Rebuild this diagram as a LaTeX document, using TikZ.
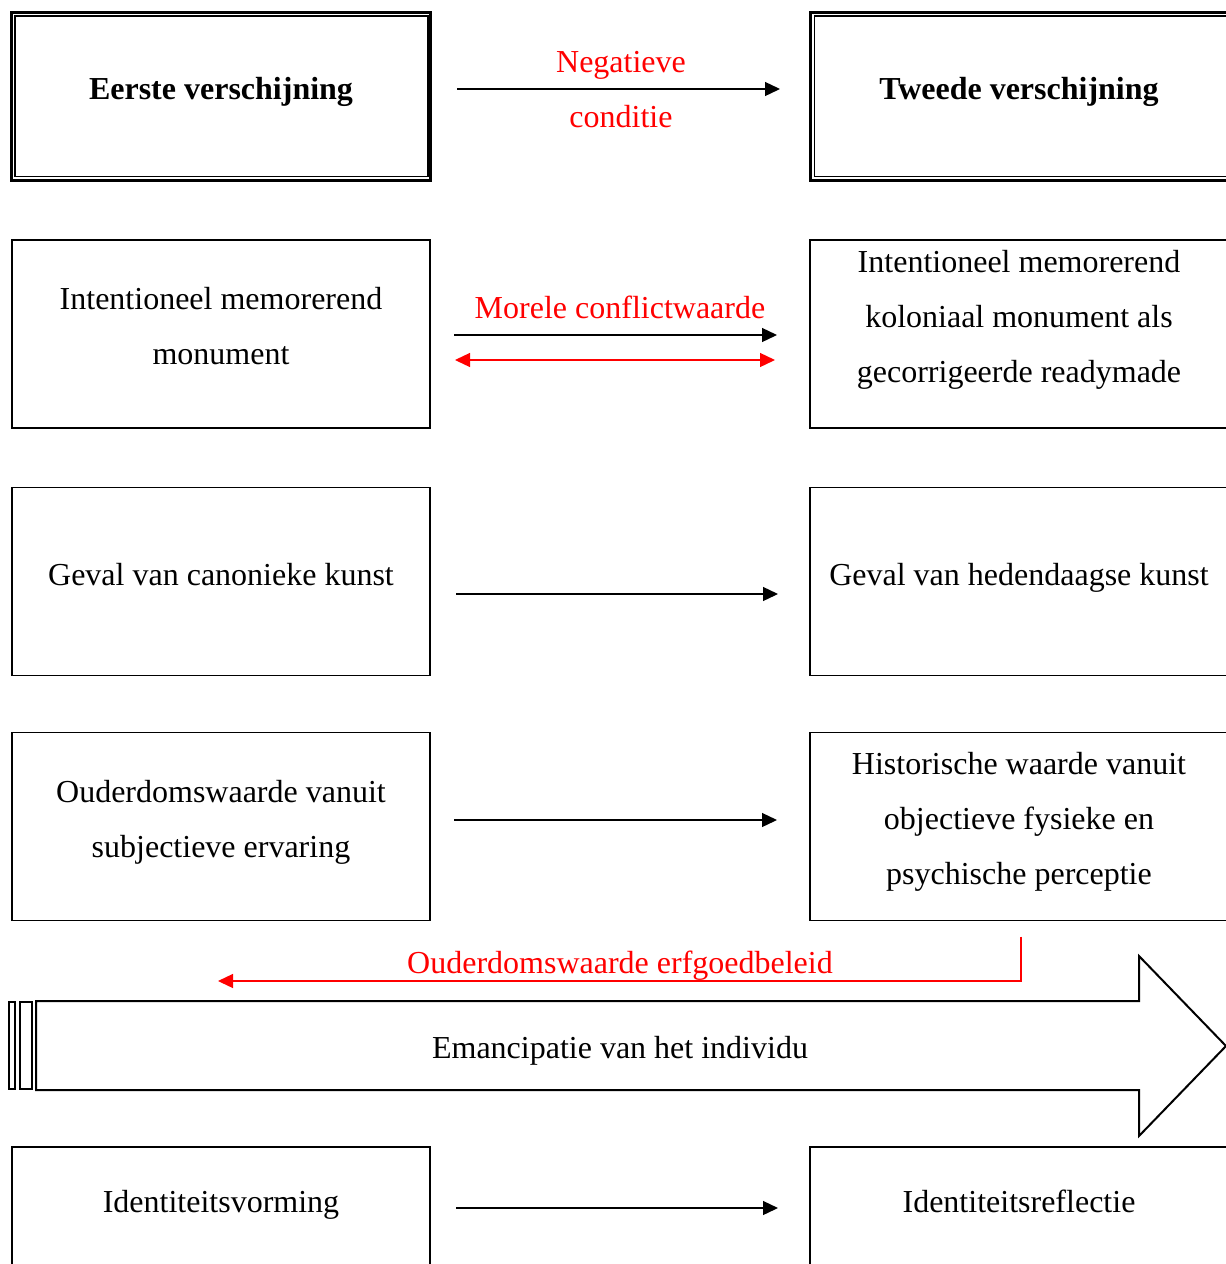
\documentclass[tikz,border=0pt]{standalone}
\usepackage{fontspec}
\setmainfont{Liberation Serif}
\usetikzlibrary{arrows.meta}
\begin{document}
\begin{tikzpicture}[x=1pt,y=-1pt,
    box/.style={draw,line width=1.6pt,minimum width=418pt,minimum height=188pt,inner sep=0pt,outer sep=0pt},
    thickbox/.style={draw,line width=3pt,inner sep=0pt,outer sep=0pt},
    thinbox/.style={draw,line width=1.2pt,inner sep=0pt,outer sep=0pt},
    txt/.style={font=\fontsize{32}{55}\selectfont,align=center,inner sep=0pt},
    boldtxt/.style={txt,font=\fontsize{32}{55}\selectfont\bfseries},
    redtxt/.style={txt,text=red},
    arr/.style={-{Triangle[length=15pt,width=14pt]},line width=1.3pt},
    redarr/.style={arr,red}]
                \useasboundingbox (0,0) rectangle (1226,1264);
                \clip (0,0) rectangle (1226,1264);

                % boxes
                \node[thickbox,minimum width=419pt,minimum height=168pt] (l1o) at (221,96.5) {}; \node[thinbox,minimum width=413pt,minimum height=160.5pt] (l1i) at (221.5,96.25) {};
                \node[thickbox,minimum width=420pt,minimum height=168pt] (r1o) at (1020,96.5) {}; \node[thinbox,minimum width=420pt,minimum height=160.5pt] (r1i) at (1024.5,96.25) {};
                \node[box] (l2) at (221,334) {}; \node[box] (r2) at (1019,334) {};
                \node[box] (l3) at (221,581.5) {}; \node[box] (r3) at (1019,581.5) {};
                \node[box] (l4) at (221,826.5) {}; \node[box] (r4) at (1019,826.5) {};
                \node[box] (l5) at (221,1241) {}; \node[box] (r5) at (1019,1241) {};

                % texts
                \node[boldtxt,anchor=base] (l1t) at (221,99) {Eerste verschijning}; \node[boldtxt,anchor=base] (r1t) at (1019,99) {Tweede verschijning};
                \node[txt] (l2t) at (221,326.5) {Intentioneel memorerend\\monument}; \node[txt] (r2t) at (1019,319.5) {Intentioneel memorerend\\koloniaal monument als\\gecorrigeerde readymade};
                \node[txt,anchor=base] (l3t) at (221,585) {Geval van canonieke kunst}; \node[txt,anchor=base] (r3t) at (1019,585) {Geval van hedendaagse kunst};
                \node[txt] (l4t) at (221,822) {Ouderdomswaarde vanuit\\subjectieve ervaring}; \node[txt] (r4t) at (1019,821.5) {Historische waarde vanuit\\objectieve fysieke en\\psychische perceptie};
                \node[txt,anchor=base] (l5t) at (221,1212) {Identiteitsvorming}; \node[txt,anchor=base] (r5t) at (1019,1212) {Identiteitsreflectie};

                \node[redtxt,anchor=base] (neg) at (621,72) {Negatieve}; \node[redtxt,anchor=base] (cond) at (621,127) {conditie};
                \node[redtxt,anchor=base] (moreel) at (620,318) {Morele conflictwaarde};
                \node[redtxt,anchor=base] (oudbel) at (620,973) {Ouderdomswaarde erfgoedbeleid};

                % arrows
                \draw[arr] ([shift={(26.5,-7.5)}]l1o.east) to ([shift={(-30,-7.5)}]r1o.west);
                \draw[arr] ([shift={(24,1)}]l2.east) to ([shift={(-33,1)}]r2.west);
                \draw[redarr,{Triangle[length=15pt,width=14pt]}-{Triangle[length=15pt,width=14pt]}] ([shift={(25,26)}]l2.east) to ([shift={(-35,26)}]r2.west);
                \draw[arr] ([shift={(26,12.5)}]l3.east) to ([shift={(-32,12.5)}]r3.west);
                \draw[arr] ([shift={(24,-6.5)}]l4.east) to ([shift={(-33,-6.5)}]r4.west);
                \draw[arr] ([shift={(26,-33)}]l5.east) to ([shift={(-32,-33)}]r5.west);
                \coordinate (oudend) at (218,981);
                \draw[redarr] ([shift={(2,16)}]r4.south) |- (oudend);

                % big arrow
                \draw[line width=2pt] (36,1001) -- (1139,1001) -- (1139,956) -- (1226,1046) -- (1139,1136) -- (1139,1090) -- (36,1090) -- cycle;
                \draw[line width=2pt] (9,1002) rectangle (15,1089); \draw[line width=2pt] (20,1002) rectangle (32,1089);
                \node[txt,anchor=base] (eman) at (620,1058) {Emancipatie van het individu};
            \end{tikzpicture}
\end{document}
